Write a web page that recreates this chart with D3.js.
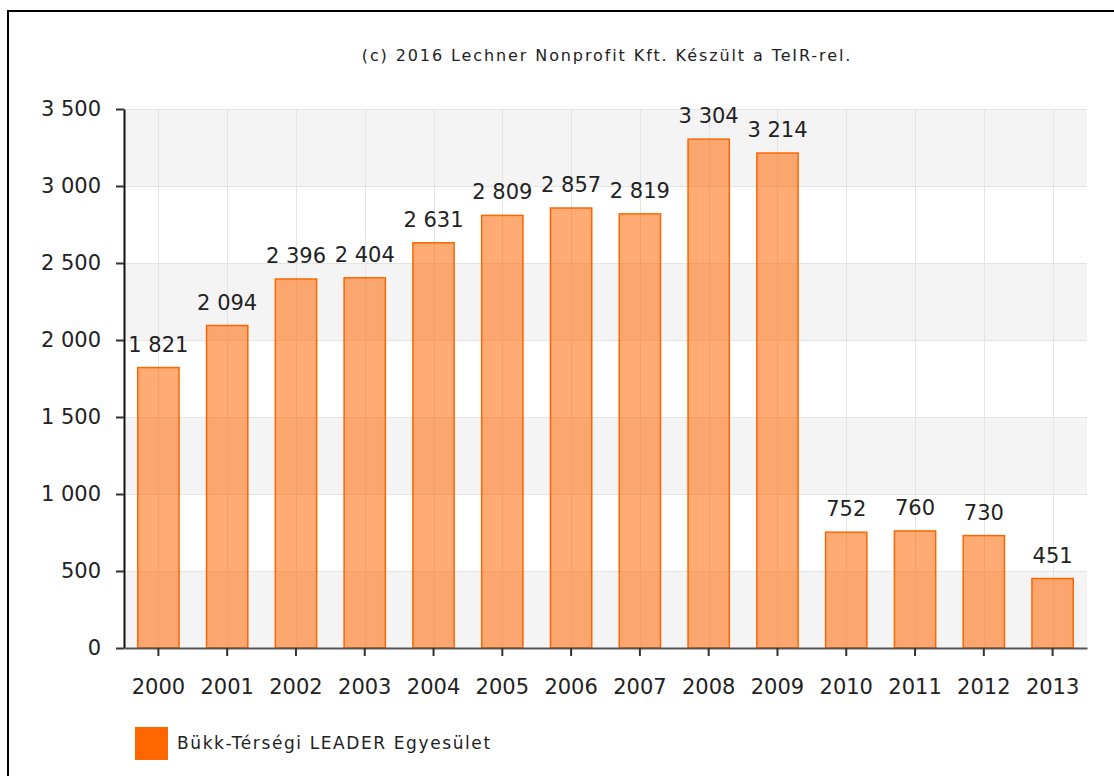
<!DOCTYPE html>
<html>
<head>
<meta charset="utf-8">
<script src="https://cdn.jsdelivr.net/npm/d3@7"></script>
<style>
  body { margin: 0; background: #fff; }
  svg { display: block; font-family: "DejaVu Sans", Verdana, sans-serif; }
</style>
</head>
<body>
<div id="chart"></div>
<script>
const years = ["2000", "2001", "2002", "2003", "2004", "2005", "2006", "2007", "2008", "2009", "2010", "2011", "2012", "2013"];
const values = [1821, 2094, 2396, 2404, 2631, 2809, 2857, 2819, 3304, 3214, 752, 760, 730, 451];
const yTicks = [0, 500, 1000, 1500, 2000, 2500, 3000, 3500];
const seriesName = "Bükk-Térségi LEADER Egyesület";
const credit = "(c) 2016 Lechner Nonprofit Kft. Készült a TeIR-rel.";

const W = 1114, H = 776;
const PLOT = { LEFT: 124, RIGHT: 1087, TOP: 109, BOTTOM: 648 };
const BAR_COLOR = "#ff6600";
const TEXT_COLOR = "#222";
const NUM_SIZE = 21;

const fmt = d3.formatLocale({ decimal: ",", thousands: " ", grouping: [3], currency: ["", ""] }).format(",d");

const svg = d3.select("#chart").append("svg")
  .attr("width", W)
  .attr("height", H);

// frame (only left + top are visible)
svg.append("line").attr("x1", 8).attr("x2", 8).attr("y1", 10).attr("y2", H)
  .attr("stroke", "#000").attr("stroke-width", 2);
svg.append("line").attr("x1", 7).attr("x2", W).attr("y1", 11).attr("y2", 11)
  .attr("stroke", "#000").attr("stroke-width", 2);

// title
svg.append("text")
  .attr("x", 607)
  .attr("y", 61)
  .attr("text-anchor", "middle")
  .attr("font-size", 16)
  .attr("letter-spacing", 1.9)
  .attr("fill", TEXT_COLOR)
  .text(credit);

// scales
const x = d3.scaleBand()
  .domain(years)
  .range([PLOT.LEFT, PLOT.RIGHT])
  .paddingInner(0.4)
  .paddingOuter(0.2);

const y = d3.scaleLinear()
  .domain([0, 3500])
  .range([PLOT.BOTTOM, PLOT.TOP]);

// alternating bands
const bands = d3.pairs(yTicks).filter((d, i) => i % 2 === 0);
svg.append("g").selectAll("rect").data(bands).join("rect")
  .attr("x", PLOT.LEFT)
  .attr("width", PLOT.RIGHT - PLOT.LEFT)
  .attr("y", d => y(d[1]))
  .attr("height", d => y(d[0]) - y(d[1]))
  .attr("fill", "#f4f4f4");

// grid
const grid = svg.append("g").attr("stroke", "#e4e4e4").attr("stroke-width", 1);
grid.selectAll(".h").data(yTicks).join("line")
  .attr("class", "h")
  .attr("x1", PLOT.LEFT).attr("x2", PLOT.RIGHT)
  .attr("y1", d => y(d) + 0.5).attr("y2", d => y(d) + 0.5);
grid.selectAll(".v").data(years).join("line")
  .attr("class", "v")
  .attr("x1", d => Math.round(x(d) + x.bandwidth() / 2) + 0.5)
  .attr("x2", d => Math.round(x(d) + x.bandwidth() / 2) + 0.5)
  .attr("y1", PLOT.TOP).attr("y2", PLOT.BOTTOM);

// bars
svg.append("g").selectAll("rect").data(values).join("rect")
  .attr("x", (d, i) => x(years[i]))
  .attr("y", d => y(d))
  .attr("width", x.bandwidth())
  .attr("height", d => PLOT.BOTTOM - y(d))
  .attr("fill", BAR_COLOR)
  .attr("fill-opacity", 0.55)
  .attr("stroke", BAR_COLOR)
  .attr("stroke-width", 1.5);

// value labels
svg.append("g").selectAll("text").data(values).join("text")
  .attr("x", (d, i) => x(years[i]) + x.bandwidth() / 2)
  .attr("y", d => y(d) - 16)
  .attr("text-anchor", "middle")
  .attr("font-size", NUM_SIZE)
  .attr("fill", TEXT_COLOR)
  .text(d => fmt(d));

// y axis
const yAxis = svg.append("g")
  .attr("transform", `translate(${PLOT.LEFT},0)`)
  .call(d3.axisLeft(y).tickValues(yTicks).tickFormat(fmt).tickSize(8).tickSizeOuter(0).tickPadding(15));
yAxis.select(".domain").attr("stroke", "#111").attr("stroke-width", 2);
yAxis.selectAll(".tick line").attr("stroke", "#333").attr("stroke-width", 2);
yAxis.selectAll(".tick text").attr("font-size", NUM_SIZE).attr("font-family", "DejaVu Sans").attr("fill", TEXT_COLOR);

// x axis
const xAxis = svg.append("g")
  .attr("transform", `translate(0,${PLOT.BOTTOM})`)
  .call(d3.axisBottom(x).tickSize(8).tickSizeOuter(0).tickPadding(23));
xAxis.select(".domain").attr("stroke", "#555").attr("stroke-width", 2);
xAxis.selectAll(".tick line").attr("stroke", "#333").attr("stroke-width", 2);
xAxis.selectAll(".tick text").attr("font-size", NUM_SIZE).attr("font-family", "DejaVu Sans").attr("fill", TEXT_COLOR);

// legend
const legend = svg.append("g").attr("transform", "translate(135,727)");
legend.append("rect")
  .attr("width", 33).attr("height", 33)
  .attr("fill", BAR_COLOR);
legend.append("text")
  .attr("x", 42).attr("y", 22)
  .attr("font-size", 17)
  .attr("letter-spacing", 1.6)
  .attr("fill", TEXT_COLOR)
  .text(seriesName);
</script>
</body>
</html>
